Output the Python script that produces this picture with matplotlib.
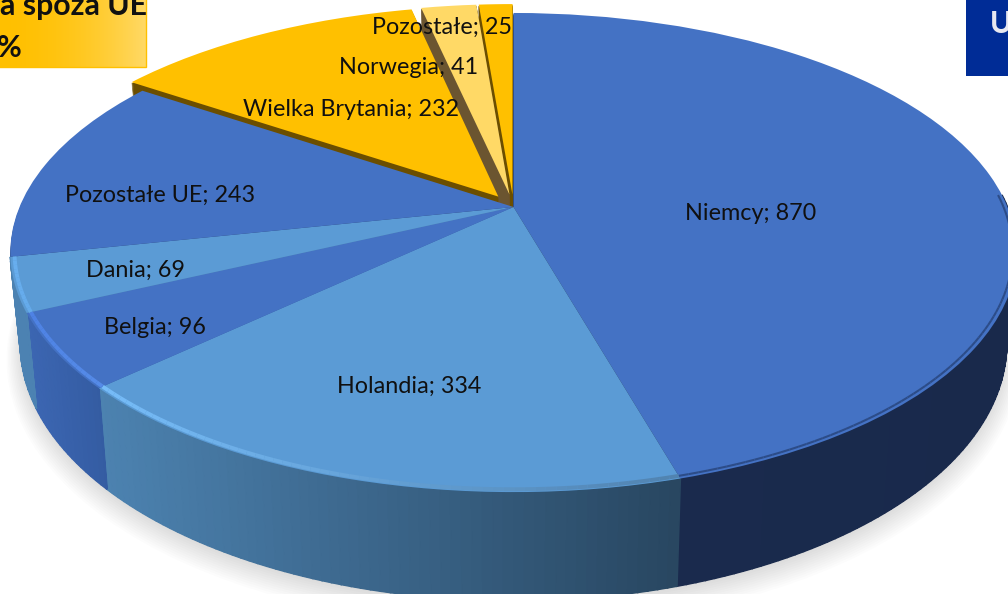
import numpy as np
import matplotlib
matplotlib.use('Agg')
import matplotlib.pyplot as plt
from matplotlib.patches import Wedge, Rectangle
from matplotlib.transforms import Transform

names = ['Niemcy', 'Holandia', 'Belgia', 'Dania', 'Pozostałe UE', 'Wielka Brytania', 'Norwegia', 'Pozostałe']
values = [870, 334, 96, 69, 243, 232, 41, 25]
explode = [0, 0, 0, 0, 0, 0.055, 0.055, 0.055]
top_colors = ['#4472C4', '#5B9BD5', '#4472C4', '#5B9BD5', '#4472C4', '#FFC000', '#FFD966', '#FFC000']
stack_colors = ['#1A2B4E', '#2B4A66', '#375FA5', '#4A7FAE', '#2A4576', '#6B4E00', '#6B5530', '#6B4E00']
# side colour left -> right, only slices facing the viewer
side_left = {0: (26, 43, 78), 1: (76, 130, 176), 2: (60, 102, 178), 3: (76, 130, 178)}
side_right = {0: (25, 41, 75), 1: (40, 70, 96), 2: (52, 92, 162), 3: (76, 130, 178)}
rim_left = {0: (44, 76, 136), 1: (118, 188, 248), 2: (78, 130, 228), 3: (104, 174, 238)}
rim_right = {0: (44, 76, 136), 1: (80, 130, 175), 2: (86, 140, 232), 3: (100, 170, 235)}
label_x = [751, 409, 155, 135, 160, 351, 409, 442]
label_y = [213, 386, 328, 270, 195, 110, 68, 27]

# perspective of the pie plane, fitted on the picture (pixels)
cx, cy = 513.5, 207
a, b, k = 494, 230.9, 0.19
depth = 88
shrink = 0.02


class Persp(Transform):
    input_dims = 2
    output_dims = 2

    def __init__(self, z=0.0):
        super().__init__()
        self.z = z

    def transform_non_affine(self, pts):
        pts = np.asarray(pts, dtype=float)
        x, y = pts[:, 0], pts[:, 1]
        w = 1 + k*y
        s = 1 - shrink*self.z
        return np.column_stack((cx + s*a*x/w, cy - b*y/w + depth*self.z/w))


def mix(c1, c2, t):
    return tuple((c1[i] + (c2[i]-c1[i])*t)/255 for i in range(3))


plt.rcParams['font.family'] = ['Lato', 'DejaVu Sans']
fig = plt.figure(figsize=(10.08, 5.94), dpi=100)
ax = fig.add_axes([0, 0, 1, 1])

wedges, _ = ax.pie(values, explode=explode, colors=top_colors, startangle=90, counterclock=False, frame=True)
ax.set_aspect('auto')

# soft shadow
for i in range(16):
    sh = Wedge((0, 0), 1.03 - 0.003*i, 0, 360, fc='k', ec='none', alpha=0.011, zorder=1)
    ax.add_patch(sh)
    sh.set_transform(Persp(1.14 - 0.01*i) + ax.transData)

# yellow slices first, far one at the back, each covers the side of the one before
order = [7, 6, 5, 4, 3, 2, 1, 0]
base = 2
for n, i in enumerate(order):
    w = wedges[i]
    for z in np.linspace(1, 0.02, 70):
        lay = Wedge(w.center, w.r, w.theta1, w.theta2, fc=stack_colors[i], ec=stack_colors[i], lw=0.3, zorder=base + n)
        ax.add_patch(lay)
        lay.set_transform(Persp(z) + ax.transData)
    w.set_transform(Persp(0) + ax.transData)
    w.set_linewidth(0)
    w.set_zorder(base + n + 0.5 if i >= 5 else 20)

# outer side with horizontal gradient and light rim
for i in range(4):
    w = wedges[i]
    th = np.radians(np.arange(w.theta1, w.theta2 + 1.0, 1.0))
    th[-1] = min(th[-1], np.radians(w.theta2))
    ux, uy = np.cos(th), np.sin(th)
    top = Persp(0).transform_non_affine(np.column_stack((ux, uy)))
    bot = Persp(1).transform_non_affine(np.column_stack((ux, uy)))
    rim = Persp(0.0).transform_non_affine(np.column_stack((ux*0.992, uy*0.992)))
    x0, x1 = top[:, 0].min(), top[:, 0].max()
    for j in range(len(th)-1):
        if uy[j] > 0.05 and uy[j+1] > 0.05:
            continue
        t = (top[j, 0] - x0)/(x1 - x0)
        col = mix(side_left[i], side_right[i], t)
        ax.fill([top[j, 0], top[j+1, 0], bot[j+1, 0], bot[j, 0]], [top[j, 1], top[j+1, 1], bot[j+1, 1], bot[j, 1]],
                fc=col, ec=col, lw=1.2, zorder=15)
        # on Niemcy the edge is only a soft dark blur, not a bright rim
        ax.plot(rim[j:j+2, 0], rim[j:j+2, 1], color=mix(rim_left[i], rim_right[i], t), lw=1.5 if i == 0 else 2.8,
                solid_capstyle='butt', zorder=21)

# text boxes cut by the picture edge
grad = np.array([[mix((255, 192, 0), (255, 217, 102), t) for t in np.linspace(0, 1, 150)**2]])
ax.imshow(grad, extent=(-4, 146, 67, -4), aspect='auto', zorder=1)
ax.add_patch(Rectangle((-4, -4), 150, 71, fc='none', ec='#FFC000', lw=1, zorder=2))
ax.text(147, 15, 'a spoza UE', ha='right', va='baseline', fontsize=21.8, fontweight='bold', color='#111111', zorder=30)
ax.text(22, 57, '%', ha='right', va='baseline', fontsize=21.8, fontweight='bold', color='#111111', zorder=30)
ax.add_patch(Rectangle((966, -2), 44, 78, fc='#002C96', ec='none', zorder=2))
ax.text(990, 33, 'U', ha='left', va='baseline', fontsize=21.8, fontweight='bold', color='#E8E8F0', zorder=30)

for i in range(len(names)):
    ax.text(label_x[i], label_y[i], names[i] + '; ' + str(values[i]), ha='center', va='center',
            fontsize=16.8, color='#101010', zorder=31)

ax.set_xlim(0, 1008)
ax.set_ylim(594, 0)
ax.axis('off')
fig.savefig('out.png', dpi=100)
